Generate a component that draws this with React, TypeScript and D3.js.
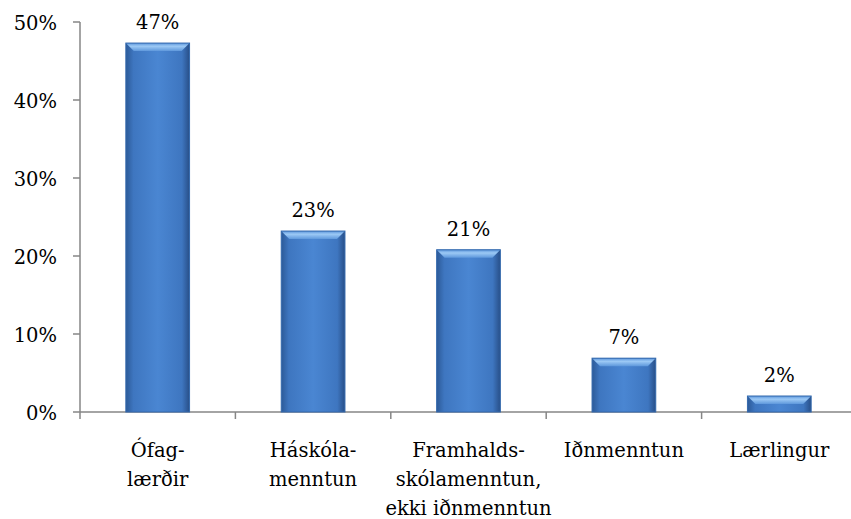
import React, { useRef, useEffect } from 'react';
import { select, scaleBand, scaleLinear } from 'd3';

const categories = ['Ófag-|lærðir', 'Háskóla-|menntun', 'Framhalds-|skólamenntun,|ekki iðnmenntun', 'Iðnmenntun', 'Lærlingur'];
const values = [47.3, 23.2, 20.8, 6.9, 2.05];
const labels = ['47%', '23%', '21%', '7%', '2%'];
const yTicks = [0, 10, 20, 30, 40, 50];

const W = 851;
const H = 519;

function App() {
    const ref = useRef<SVGSVGElement>(null);

    useEffect(() => {
        const svg = select(ref.current);
        svg.selectAll('*').remove();

        const left = 80;
        const x = scaleBand<number>()
            .domain(values.map((d, i) => i))
            .range([left, 857])
            .paddingInner(0.59)
            .paddingOuter(0.295);
        const y = scaleLinear().domain([0, 50]).range([412, 22]);
        const axisColor = '#868686';

        const defs = svg.append('defs');
        const g = defs.append('linearGradient').attr('id', 'barGrad').attr('x1', 0).attr('x2', 1).attr('y1', 0).attr('y2', 0);
        g.append('stop').attr('offset', '0%').attr('stop-color', '#2c5a98');
        g.append('stop').attr('offset', '12%').attr('stop-color', '#3e76c0');
        g.append('stop').attr('offset', '50%').attr('stop-color', '#4a86d2');
        g.append('stop').attr('offset', '88%').attr('stop-color', '#3e76c0');
        g.append('stop').attr('offset', '100%').attr('stop-color', '#284f88');
        const tg = defs.append('linearGradient').attr('id', 'topGrad').attr('x1', 0).attr('x2', 0).attr('y1', 0).attr('y2', 1);
        tg.append('stop').attr('offset', '0%').attr('stop-color', '#5b95db');
        tg.append('stop').attr('offset', '40%').attr('stop-color', '#9cc9f5');
        tg.append('stop').attr('offset', '100%').attr('stop-color', '#5e98dc');

        // serif text (Liberation Serif is not picked up here, DejaVu Serif is)
        const txt = svg.append('g')
            .attr('font-family', 'DejaVu Serif')
            .attr('font-size', 19.5)
            .attr('fill', '#000');

        // y axis
        svg.append('line')
            .attr('x1', left).attr('x2', left)
            .attr('y1', y(50)).attr('y2', y(0))
            .attr('stroke', axisColor).attr('stroke-width', 1.5);
        yTicks.forEach(t => {
            svg.append('line')
                .attr('x1', left - 7).attr('x2', left)
                .attr('y1', y(t)).attr('y2', y(t))
                .attr('stroke', axisColor).attr('stroke-width', 1.5);
            txt.append('text')
                .attr('x', 57).attr('y', y(t) + 8)
                .attr('text-anchor', 'end')
                .text(t + '%');
        });

        // x axis
        svg.append('line')
            .attr('x1', left).attr('x2', W)
            .attr('y1', y(0)).attr('y2', y(0))
            .attr('stroke', axisColor).attr('stroke-width', 1.5);
        const step = x.step();
        for (let i = 0; i <= values.length; i++) {
            const tx = left + i * step;
            svg.append('line')
                .attr('x1', tx).attr('x2', tx)
                .attr('y1', y(0)).attr('y2', y(0) + 7)
                .attr('stroke', axisColor).attr('stroke-width', 1.5);
        }

        // bars
        const bw = x.bandwidth();
        values.forEach((v, i) => {
            const bx = x(i)!;
            const by = y(v);
            const bh = y(0) - by;
            svg.append('rect')
                .attr('x', bx).attr('y', by).attr('width', bw).attr('height', bh)
                .attr('fill', 'url(#barGrad)');
            const bev = Math.min(8, bh / 2);
            svg.append('path')
                .attr('d', `M${bx},${by}L${bx + bw},${by}L${bx + bw - bev},${by + bev}L${bx + bev},${by + bev}Z`)
                .attr('fill', 'url(#topGrad)');
            svg.append('rect')
                .attr('x', bx).attr('y', by).attr('width', bw).attr('height', bh)
                .attr('fill', 'none').attr('stroke', '#3469ad').attr('stroke-width', 1);
            txt.append('text')
                .attr('x', bx + bw / 2).attr('y', by - 14)
                .attr('text-anchor', 'middle')
                .text(labels[i]);
        });

        // category labels
        categories.forEach((c, i) => {
            const cx = x(i)! + bw / 2;
            c.split('|').forEach((line, j) => {
                txt.append('text')
                    .attr('x', cx).attr('y', 457 + j * 29)
                    .attr('text-anchor', 'middle')
                    .text(line);
            });
        });
    }, []);

    return (
        <svg ref={ref} width={W} height={H} style={{ position: 'absolute', left: 0, top: 0, background: '#fff' }} />
    );
}

export default App;
